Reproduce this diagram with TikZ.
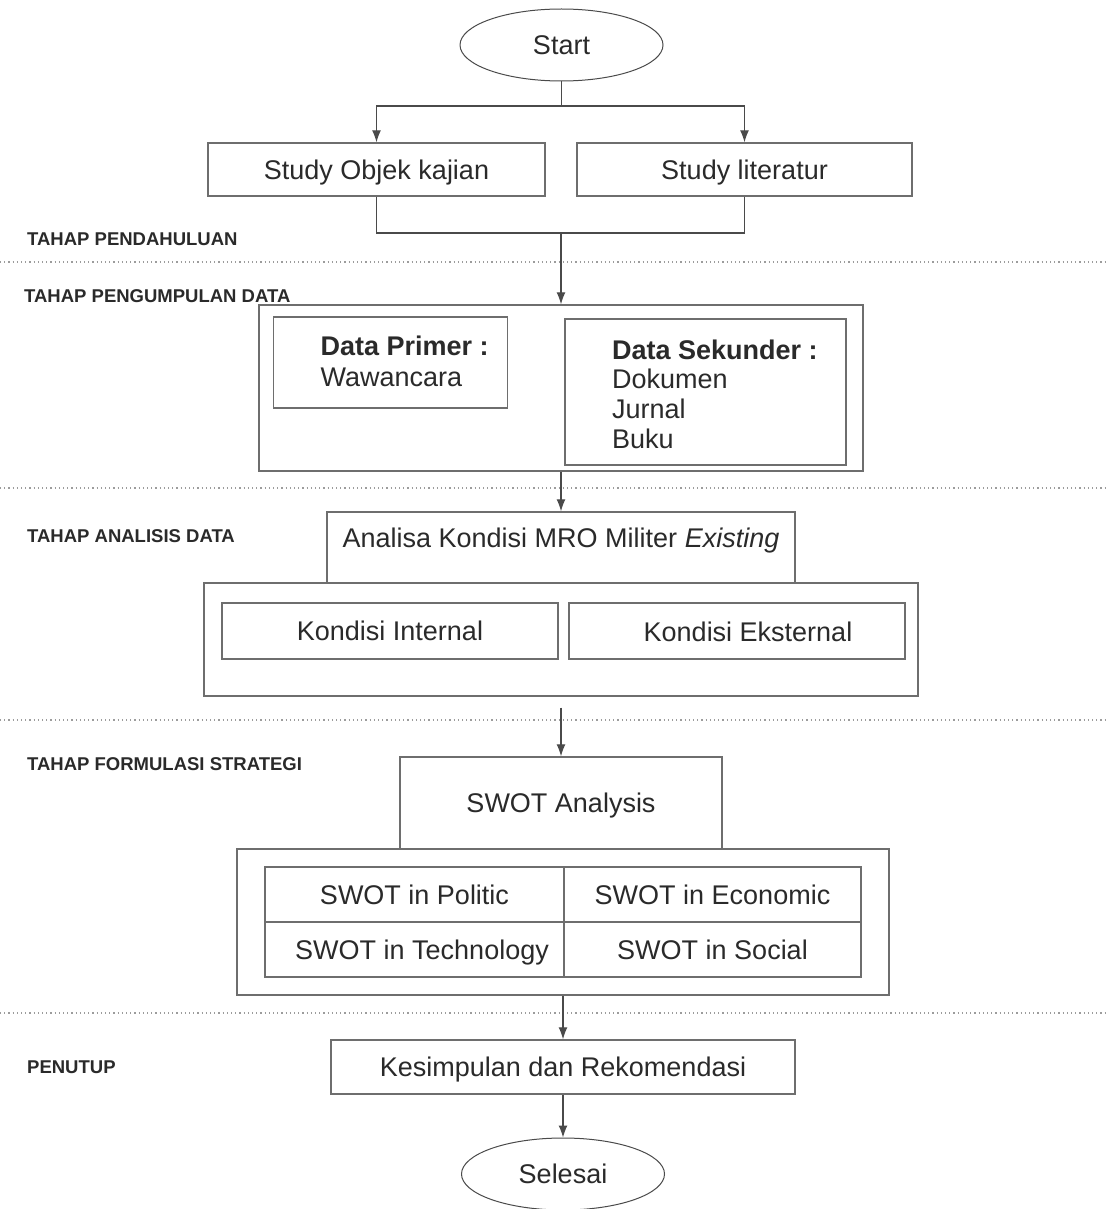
\documentclass[tikz,border=0pt]{standalone}
\usepackage{fontspec}
\setmainfont{Liberation Sans}
\usetikzlibrary{shapes.geometric,arrows.meta}
\definecolor{ink}{HTML}{2A2A2A}
\definecolor{edge}{HTML}{6E6E6E}
\definecolor{wire}{HTML}{4A4A4A}
\definecolor{dots}{HTML}{9C9C9C}

\begin{document}
\begin{tikzpicture}[x=1pt,y=-1pt,
  every node/.style={text=ink, font=\fontsize{27}{30}\selectfont},
  txt/.style={inner sep=0pt, text height=19.3pt, text depth=0pt},
  box/.style={txt, draw=edge, line width=1.4pt, rectangle},
  oval/.style={txt, draw=wire, line width=1pt, ellipse},
  lbl/.style={anchor=base west, inner sep=0pt, font=\fontsize{18.5}{20}\selectfont\bfseries},
  ln/.style={anchor=base west, inner sep=0pt},
  head/.style={ln, font=\fontsize{27}{30}\selectfont\bfseries},
  flow/.style={draw=wire, line width=1.2pt},
  arr/.style={flow, -{Latex[length=12pt,width=9pt]}},
  divider/.style={draw=dots, line width=1.2pt, dash pattern=on 1.2pt off 3pt}]

\useasboundingbox (0,0) rectangle (1107,1209);
\fill[white] (0,0) rectangle (1107,1209);

% phase separators
\draw[divider] (0,262) -- (1107,262);
\draw[divider] (0,488) -- (1107,488);
\draw[divider] (0,720) -- (1107,720);
\draw[divider] (0,1013) -- (1107,1013);

% phase labels
\node[lbl] (l1) at (27,245) {TAHAP PENDAHULUAN};
\node[lbl] (l2) at (24,302) {TAHAP PENGUMPULAN DATA};
\node[lbl] (l3) at (27,542) {TAHAP ANALISIS DATA};
\node[lbl] (l4) at (27,770) {TAHAP FORMULASI STRATEGI};
\node[lbl] (l5) at (27,1073) {PENUTUP};

% start and preliminary study
\node[oval, minimum width=203pt, minimum height=72pt] (start) at (561.5,45) {Start};
\coordinate (split) at (561.5,106);
\node[box, minimum width=337pt, minimum height=53pt] (obj) at (376.5,169.5) {Study Objek kajian};
\node[box, minimum width=335pt, minimum height=53pt] (lit) at (744.5,169.5) {Study literatur};
\coordinate (join) at (561,233);

% data collection
\node[box, minimum width=604pt, minimum height=166pt] (data) at (561,388) {};
\node[box, minimum width=234pt, minimum height=91pt] (prim) at (390.5,362.5) {};
\node[box, minimum width=281pt, minimum height=146pt] (sek) at (705.5,392) {};
\node[head] (p1) at (320.5,355) {Data Primer :};
\node[ln] (p2) at (320.5,386) {Wawancara};
\node[head] (s1) at (612,359) {Data Sekunder :};
\node[ln] (s2) at (612,388) {Dokumen};
\node[ln] (s3) at (612,418) {Jurnal};
\node[ln] (s4) at (612,448) {Buku};

% data analysis
\node[box, minimum width=714pt, minimum height=113pt] (kond) at (561,639.5) {};
\node[box, minimum width=468pt, minimum height=71pt] (ana) at (561,547.5) {};
\node[txt] (anat) at (561,538) {Analisa Kondisi MRO Militer \textit{Existing}};
\node[box, minimum width=336pt, minimum height=56pt] (ki) at (390,631) {Kondisi Internal};
\node[box, minimum width=336pt, minimum height=56pt] (ke) at (737,631) {};
\node[txt] (ket) at (748,632) {Kondisi Eksternal};

% strategy formulation
\node[box, minimum width=652pt, minimum height=146pt] (sout) at (563,922) {};
\node[box, minimum width=322pt, minimum height=92pt] (sw) at (561,803) {SWOT Analysis};
\node[box, minimum width=299pt, minimum height=55pt] (c1) at (414.5,894.5) {SWOT in Politic};
\node[box, minimum width=297pt, minimum height=55pt] (c2) at (712.5,894.5) {SWOT in Economic};
\node[box, minimum width=299pt, minimum height=55pt] (c3) at (414.5,949.5) {};
\node[txt] (c3t) at (422,949.5) {SWOT in Technology};
\node[box, minimum width=297pt, minimum height=55pt] (c4) at (712.5,949.5) {SWOT in Social};

% closing
\node[box, minimum width=464pt, minimum height=54pt] (ks) at (563,1067) {Kesimpulan dan Rekomendasi};
\node[oval, minimum width=203pt, minimum height=72pt] (end) at (563,1174) {Selesai};

% connectors
\draw[flow] (start.south) -- (split);
\draw[arr] (split) -| (obj.north);
\draw[arr] (split) -| (lit.north);
\draw[flow] (obj.south) |- (join);
\draw[flow] (lit.south) |- (join);
\draw[arr] (join) -- (data.north);
\draw[arr] (data.south) -- (ana.north);
\draw[arr] ([yshift=-11pt]kond.south) -- (sw.north);
\draw[arr] (sout.south) -- (ks.north);
\draw[arr] (ks.south) -- (end.north);
\end{tikzpicture}
\end{document}
